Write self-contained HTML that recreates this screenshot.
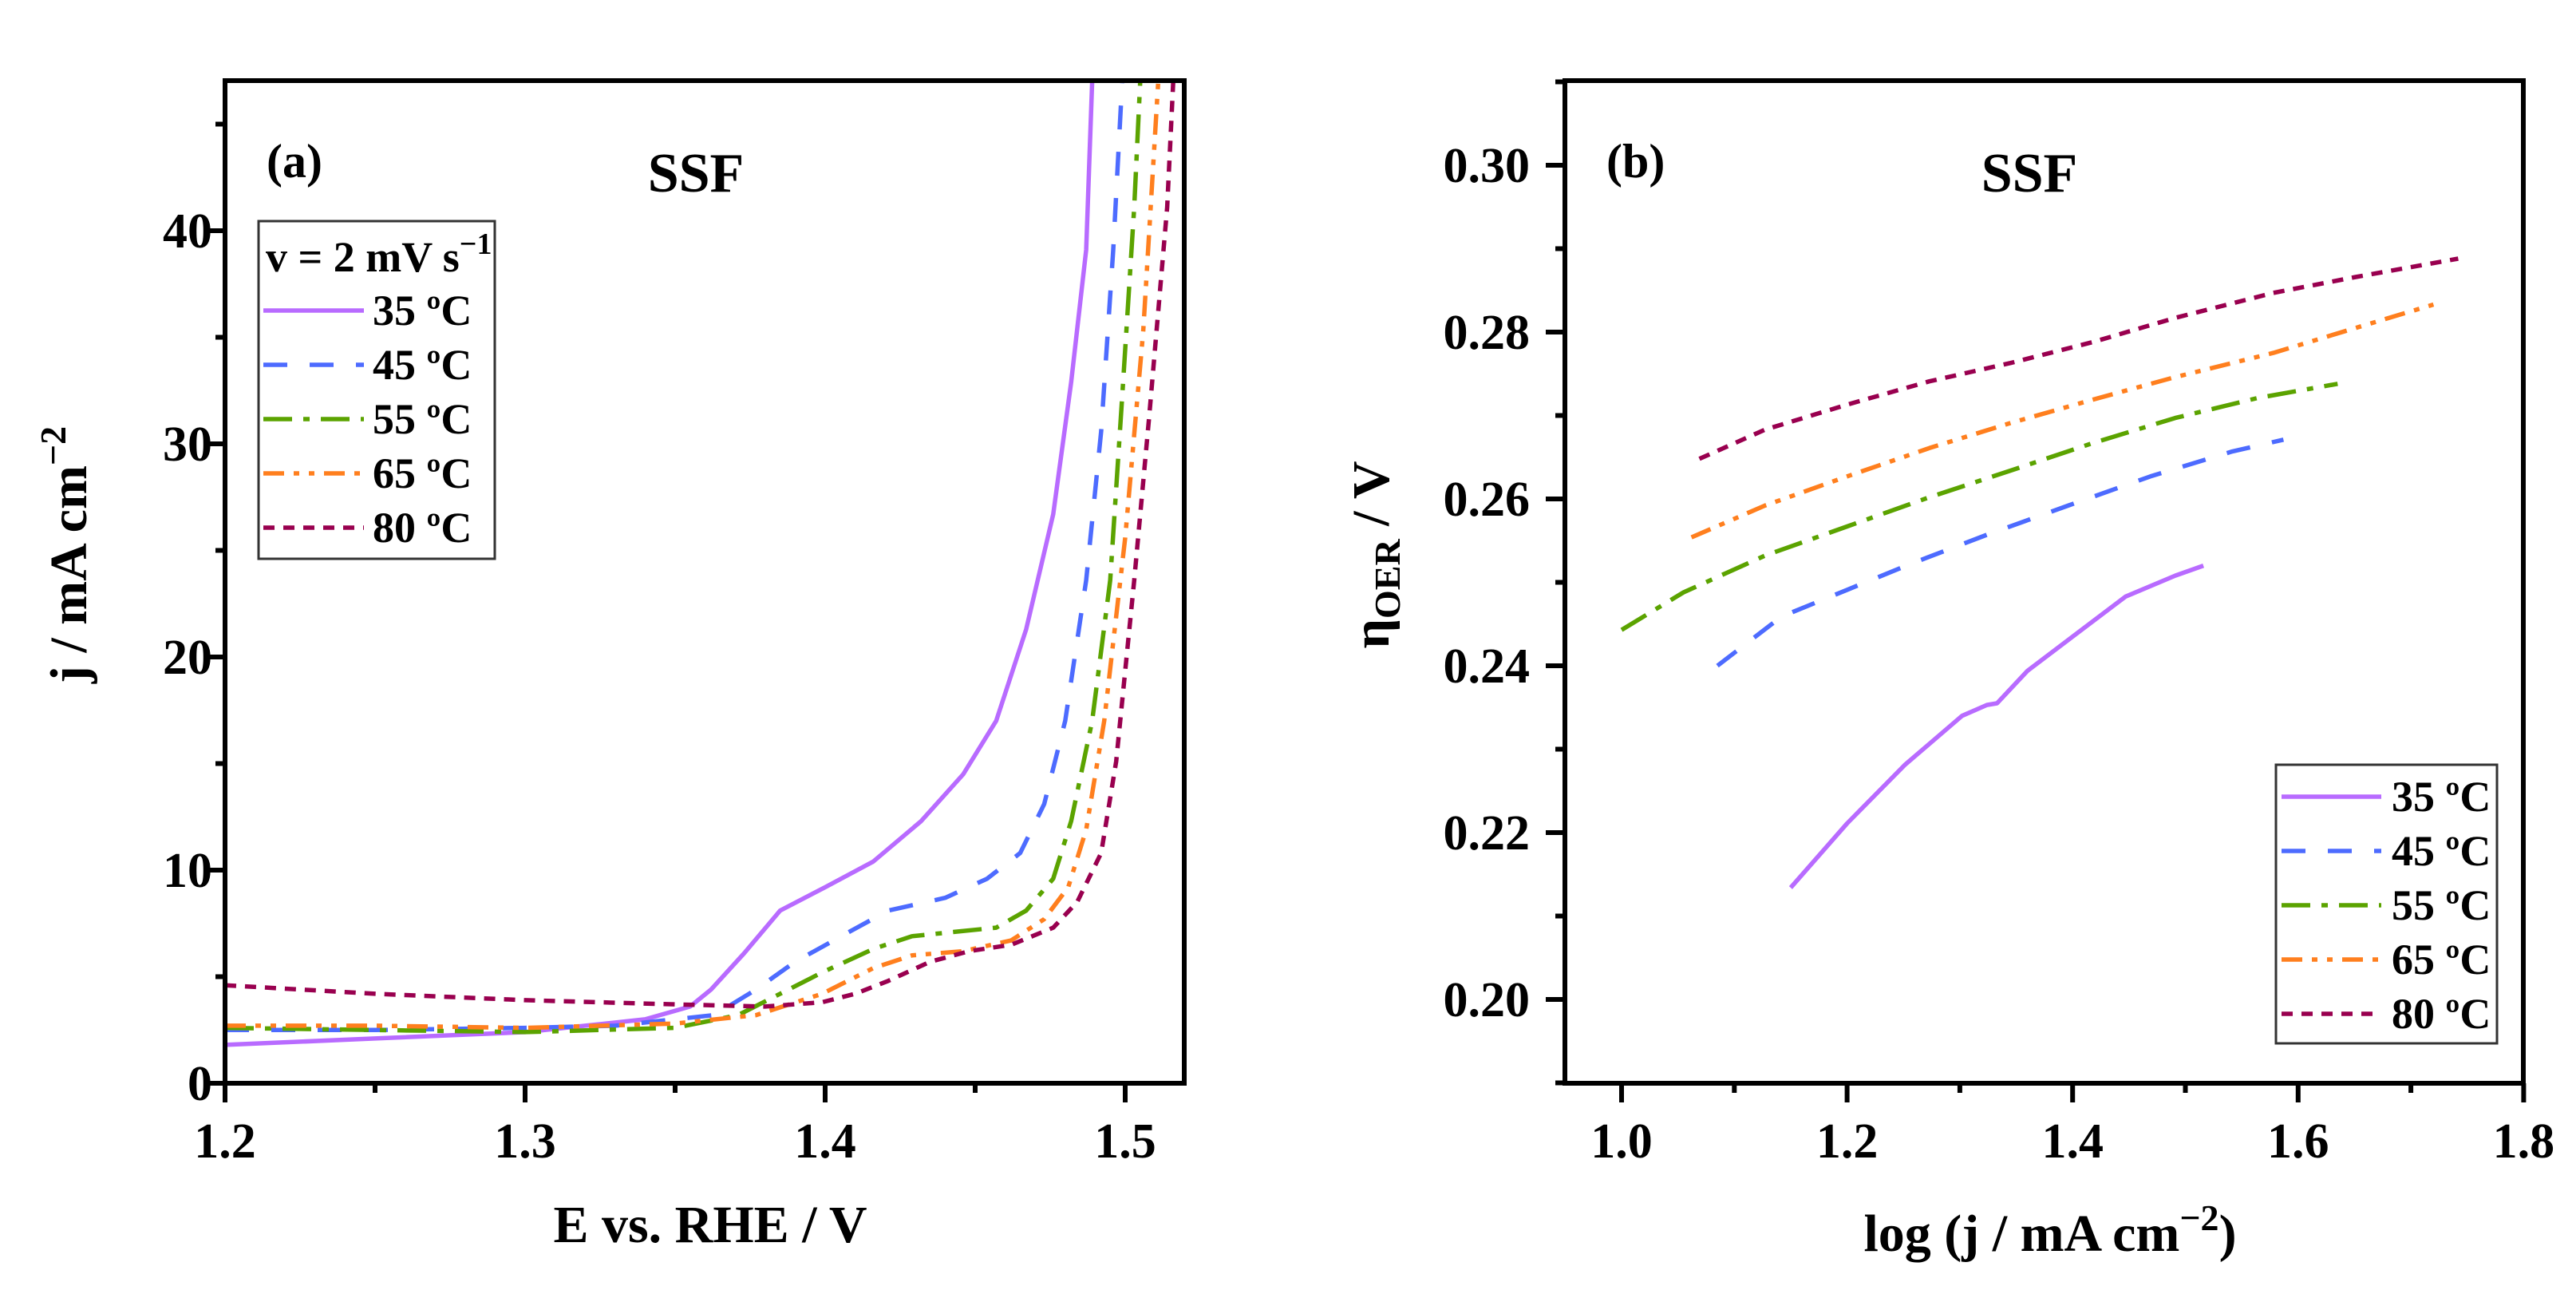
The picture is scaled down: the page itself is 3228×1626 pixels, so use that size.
<!DOCTYPE html>
<html><head><meta charset="utf-8"><style>
html,body{margin:0;padding:0;background:#fff;}
svg{display:block;}
svg text{font-family:"Liberation Serif","DejaVu Serif",serif;font-weight:bold;}
</style></head><body>
<svg id="fig" width="3228" height="1626" viewBox="0 0 3228 1626" xmlns="http://www.w3.org/2000/svg"></svg>
<script>
// ---------- Panel (a) data ----------
const aX35=[1.2,1.25,1.3,1.34,1.355,1.362,1.373,1.385,1.4,1.416,1.432,1.446,1.457,1.467,1.476,1.482,1.487,1.489];
const aY35=[1.8,2.1,2.4,3.0,3.6,4.4,6.1,8.1,9.2,10.4,12.3,14.5,17.0,21.3,26.7,32.9,39.1,47];
const aX45=[1.2,1.25,1.3,1.33,1.363,1.377,1.39,1.408,1.421,1.44,1.454,1.465,1.473,1.48,1.487,1.492,1.496,1.499];
const aY45=[2.5,2.5,2.6,2.7,3.2,4.4,5.7,7.1,8.1,8.7,9.6,10.8,13.1,17.0,23.6,30.6,39.1,47];
const aX55=[1.2,1.25,1.3,1.35,1.371,1.385,1.399,1.416,1.429,1.443,1.457,1.467,1.476,1.482,1.489,1.495,1.499,1.503,1.505];
const aY55=[2.6,2.5,2.4,2.6,3.2,4.2,5.2,6.3,6.9,7.1,7.3,8.1,9.6,12.3,17.0,23.6,32.2,41.1,47];
const aX65=[1.2,1.25,1.3,1.35,1.377,1.399,1.416,1.429,1.446,1.462,1.473,1.481,1.487,1.493,1.5,1.506,1.511];
const aY65=[2.7,2.7,2.6,2.8,3.2,4.2,5.4,6.0,6.2,6.7,7.7,9.2,11.9,17.0,25.6,35.3,47];
const aX80=[1.2,1.25,1.3,1.35,1.38,1.399,1.41,1.421,1.435,1.448,1.462,1.476,1.484,1.492,1.497,1.503,1.508,1.514,1.516];
const aY80=[4.6,4.2,3.9,3.7,3.6,3.8,4.2,4.8,5.7,6.2,6.5,7.3,8.5,10.8,15.1,23.6,31.3,41.1,47];
const aXTicks=[1.2,1.3,1.4,1.5];
const aXTickLabels=["1.2","1.3","1.4","1.5"];
const aYTicks=[0,10,20,30,40];
const aYTickLabels=["0","10","20","30","40"];
// ---------- Panel (b) data ----------
const bX35=[1.15,1.2,1.251,1.302,1.324,1.333,1.36,1.404,1.447,1.491,1.516];
const bY35=[0.2134,0.2211,0.2281,0.2340,0.2353,0.2355,0.2394,0.2439,0.2483,0.2508,0.252];
const bX45=[1.085,1.142,1.2,1.258,1.324,1.396,1.469,1.542,1.587];
const bY45=[0.240,0.2459,0.2491,0.2523,0.2557,0.2592,0.2627,0.2657,0.2671];
const bX55=[1.0,1.055,1.127,1.2,1.273,1.345,1.418,1.491,1.564,1.635];
const bY55=[0.2443,0.2488,0.2532,0.2567,0.2602,0.2634,0.2667,0.2697,0.2721,0.2738];
const bX65=[1.062,1.127,1.2,1.273,1.345,1.418,1.491,1.578,1.651,1.72];
const bY65=[0.2554,0.2592,0.2627,0.2661,0.2691,0.2719,0.2746,0.2775,0.2805,0.2833];
const bX80=[1.069,1.127,1.2,1.273,1.345,1.418,1.491,1.578,1.651,1.742];
const bY80=[0.2648,0.2683,0.2713,0.2741,0.2763,0.2788,0.2817,0.2847,0.2866,0.2888];
const bXTicks=[1.0,1.2,1.4,1.6,1.8];
const bXTickLabels=["1.0","1.2","1.4","1.6","1.8"];
const bYTicks=[0.20,0.22,0.24,0.26,0.28,0.30];
const bYTickLabels=["0.20","0.22","0.24","0.26","0.28","0.30"];
const seriesNames=["35 ºC","45 ºC","55 ºC","65 ºC","80 ºC"];

const NS="http://www.w3.org/2000/svg";
const svg=document.getElementById('fig');
function mk(tag,attrs,parent){const e=document.createElementNS(NS,tag);for(const k in attrs)e.setAttribute(k,attrs[k]);(parent||svg).appendChild(e);return e;}

const styles=[
 {c:"#b86bff",d:""},
 {c:"#4d6bff",d:"30 28"},
 {c:"#5ba300",d:"36 14 8 14"},
 {c:"#ff7f1e",d:"26 12 7 12 7 12"},
 {c:"#99004f",d:"14 11"}
];
const FF='"Liberation Serif","DejaVu Serif",serif';

const aL=282,aR=1484,aT=101,aB=1357;
function ax(v){return aL+(v-1.2)*3760;}
function ay(v){return aB-v*26.7;}
const bL=1961,bR=3162,bT=101,bB=1357;
function bx(v){return 2032+(v-1.0)*1413;}
function by(v){return 1252-(v-0.20)*10450;}

function axes(name,L,R,T,B){
  const r=mk('rect',{x:L,y:T,width:R-L,height:B-T,fill:'none',stroke:'#000','stroke-width':6});
  
  
}
function tick(x1,y1,x2,y2,name){const t=mk('line',{x1,y1,x2,y2,stroke:'#000','stroke-width':6});
  
  }
function text(x,y,s,size,anchor,name,extra){const t=mk('text',Object.assign({x,y,'font-size':size,'text-anchor':anchor||'start',fill:'#000','font-family':FF,'font-weight':'bold'},extra||{}));t.textContent=s;
  
  return t;}

const defs=mk('defs',{});
const ca=mk('clipPath',{id:'clipA'},defs);mk('rect',{x:aL,y:aT,width:aR-aL,height:aB-aT},ca);
const cb=mk('clipPath',{id:'clipB'},defs);mk('rect',{x:bL,y:bT,width:bR-bL,height:bB-bT},cb);

function series(xs,ys,fx,fy,st,clip,name){
  let d='';for(let i=0;i<xs.length;i++){d+=(i?'L':'M')+fx(xs[i]).toFixed(1)+' '+fy(ys[i]).toFixed(1);}
  const p=mk('path',{d,fill:'none',stroke:st.c,'stroke-width':5.5,'stroke-dasharray':st.d,'stroke-linejoin':'round','clip-path':'url(#'+clip+')'});
  
  
}

// ===== Panel a =====
const aSeries=[[aX35,aY35],[aX45,aY45],[aX55,aY55],[aX65,aY65],[aX80,aY80]];
aSeries.forEach((s,i)=>series(s[0],s[1],ax,ay,styles[i],'clipA','curve-a-'+seriesNames[i].slice(0,2)+'c'));
axes('panel-a',aL,aR,aT,aB);
for(let v=1.25;v<1.52;v+=0.1){tick(ax(v),aB,ax(v),aB+12,'x-minor-tick-a');}
aXTicks.forEach((v,i)=>{tick(ax(v),aB,ax(v),aB+24,'x-tick-a');text(ax(v),1450,aXTickLabels[i],62,'middle','x-tick-label-a');});
for(let v=5;v<47;v+=10){tick(aL,ay(v),aL-12,ay(v),'y-minor-tick-a');}
aYTicks.forEach((v,i)=>{tick(aL,ay(v),aL-24,ay(v),'y-tick-a');text(266,ay(v)+21,aYTickLabels[i],62,'end','y-tick-label-a');});
text(334,222,"(a)",60,'start','panel-label-a');
text(872,240,"SSF",70,'middle','panel-title-a');
text(890,1556,"E vs. RHE / V",66,'middle','x-axis-title-a');
const yta=text(0,0,"",66,'middle','y-axis-title-a',{transform:'translate(108,695) rotate(-90)'});
yta.innerHTML='j / mA cm<tspan dy="-26" font-size="46">−2</tspan>';
const lga=mk('rect',{x:324,y:277,width:296,height:423,fill:'#fff',stroke:'#333','stroke-width':3});


const lt=text(333,340,"",54,'start','legend-a-title');
lt.innerHTML='v = 2 mV s<tspan dy="-22" font-size="38">−1</tspan>';
seriesNames.forEach((n,i)=>{const y=389+i*68;
  const l=mk('line',{x1:330,y1:y,x2:456,y2:y,stroke:styles[i].c,'stroke-width':5.5,'stroke-dasharray':styles[i].d});
  
  
  text(467,y+18,n,54,'start','legend-a-entry');});

// ===== Panel b =====
const bSeries=[[bX35,bY35],[bX45,bY45],[bX55,bY55],[bX65,bY65],[bX80,bY80]];
bSeries.forEach((s,i)=>series(s[0],s[1],bx,by,styles[i],'clipB','curve-b-'+seriesNames[i].slice(0,2)+'c'));
axes('panel-b',bL,bR,bT,bB);
for(let v=1.1;v<1.8;v+=0.2){tick(bx(v),bB,bx(v),bB+12,'x-minor-tick-b');}
bXTicks.forEach((v,i)=>{tick(bx(v),bB,bx(v),bB+24,'x-tick-b');text(bx(v),1450,bXTickLabels[i],62,'middle','x-tick-label-b');});
for(let v=0.19;v<0.315;v+=0.02){tick(bL,by(v),bL-12,by(v),'y-minor-tick-b');}
bYTicks.forEach((v,i)=>{tick(bL,by(v),bL-24,by(v),'y-tick-b');text(1917,by(v)+21,bYTickLabels[i],62,'end','y-tick-label-b');});
text(2013,222,"(b)",60,'start','panel-label-b');
text(2543,240,"SSF",70,'middle','panel-title-b');
const xtb=text(2569,1567,"",66,'middle','x-axis-title-b');
xtb.innerHTML='log (j / mA cm<tspan dy="-26" font-size="46">−2</tspan><tspan dy="26">)</tspan>';
const ytb=text(0,0,"",66,'middle','y-axis-title-b',{transform:'translate(1740,695) rotate(-90)'});
ytb.innerHTML='η<tspan dy="14" font-size="46">OER</tspan><tspan dy="-14"> / V</tspan>';
const lgb=mk('rect',{x:2852,y:958,width:277,height:349,fill:'#fff',stroke:'#333','stroke-width':3});


seriesNames.forEach((n,i)=>{const y=998+i*68;
  const l=mk('line',{x1:2859,y1:y,x2:2984,y2:y,stroke:styles[i].c,'stroke-width':5.5,'stroke-dasharray':styles[i].d});
  
  
  text(2997,y+18,n,54,'start','legend-b-entry');});
</script>
</body></html>
